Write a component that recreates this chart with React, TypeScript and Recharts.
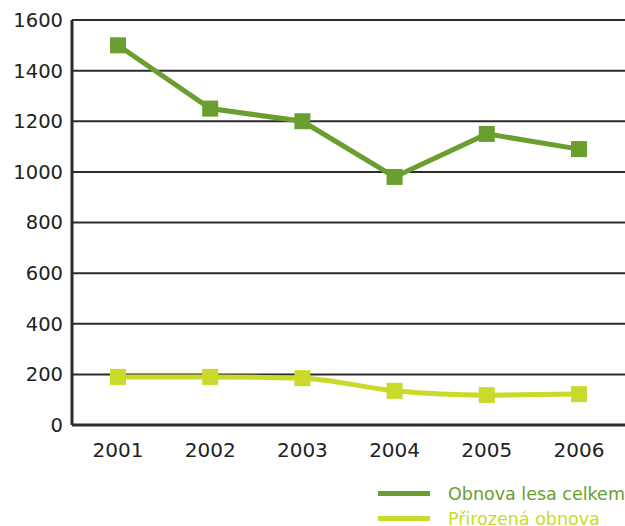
import React from "react";
import { LineChart, Line, XAxis, YAxis, CartesianGrid } from "recharts";

const years = ["2001", "2002", "2003", "2004", "2005", "2006"];
const obnovaCelkem = [1500, 1250, 1200, 980, 1150, 1090];
const prirozenaObnova = [190, 190, 185, 135, 118, 122];
const yTicks = [0, 200, 400, 600, 800, 1000, 1200, 1400, 1600];
const legendItems = ["Obnova lesa celkem", "Přirozená obnova"];

const GREEN = "#6a9e2e";
const YELLOW = "#c9da2b";
const FONT = "'DejaVu Sans', sans-serif";

const data = years.map((y, i) => ({
  year: y,
  celkem: obnovaCelkem[i],
  prirozena: prirozenaObnova[i],
}));

const SquareDot = (color: string) => (props: any) => {
  const { cx, cy, index } = props;
  if (cx == null || cy == null) return null;
  return <rect key={index} x={cx - 8} y={cy - 8} width={16} height={16} fill={color} />;
};

export default function App() {
  const colors = [GREEN, YELLOW];
  return (
    <div style={{ position: "absolute", left: 0, top: 0, width: 625, height: 526, background: "#fff", overflow: "hidden" }}>
      <LineChart
        width={625}
        height={526}
        data={data}
        margin={{ top: 20, right: 0, left: 0, bottom: 71 }}
      >
        <CartesianGrid vertical={false} stroke="#2b2b2b" strokeWidth={2} />
        <XAxis
          dataKey="year"
          height={30}
          padding={{ left: 46, right: 46 }}
          axisLine={{ stroke: "#2b2b2b", strokeWidth: 3 }}
          tickLine={false}
          tickSize={0}
          tickMargin={18}
          tick={{ fill: "#222", fontSize: 20, fontFamily: FONT }}
        />
        <YAxis
          width={72}
          domain={[0, 1600]}
          ticks={yTicks}
          interval={0}
          axisLine={{ stroke: "#2b2b2b", strokeWidth: 3 }}
          tickLine={false}
          tickSize={0}
          tickMargin={9}
          tick={{ fill: "#222", fontSize: 19.5, fontFamily: FONT }}
        />
        <Line
          dataKey="celkem"
          stroke={GREEN}
          strokeWidth={5}
          dot={SquareDot(GREEN)}
          activeDot={false}
          isAnimationActive={false}
          type="linear"
        />
        <Line
          dataKey="prirozena"
          stroke={YELLOW}
          strokeWidth={5}
          dot={SquareDot(YELLOW)}
          activeDot={false}
          isAnimationActive={false}
          type="monotone"
        />
      </LineChart>
      <div style={{ position: "absolute", left: 378, top: 481, width: 250, fontFamily: FONT, fontSize: 17.5 }}>
        {legendItems.map((label, i) => (
          <div key={label} style={{ display: "flex", alignItems: "center", height: 25, whiteSpace: "nowrap" }}>
            <div style={{ width: 52, height: 5, background: colors[i], marginRight: 18, flex: "none" }} />
            <span style={{ color: colors[i] }}>{label}</span>
          </div>
        ))}
      </div>
    </div>
  );
}
